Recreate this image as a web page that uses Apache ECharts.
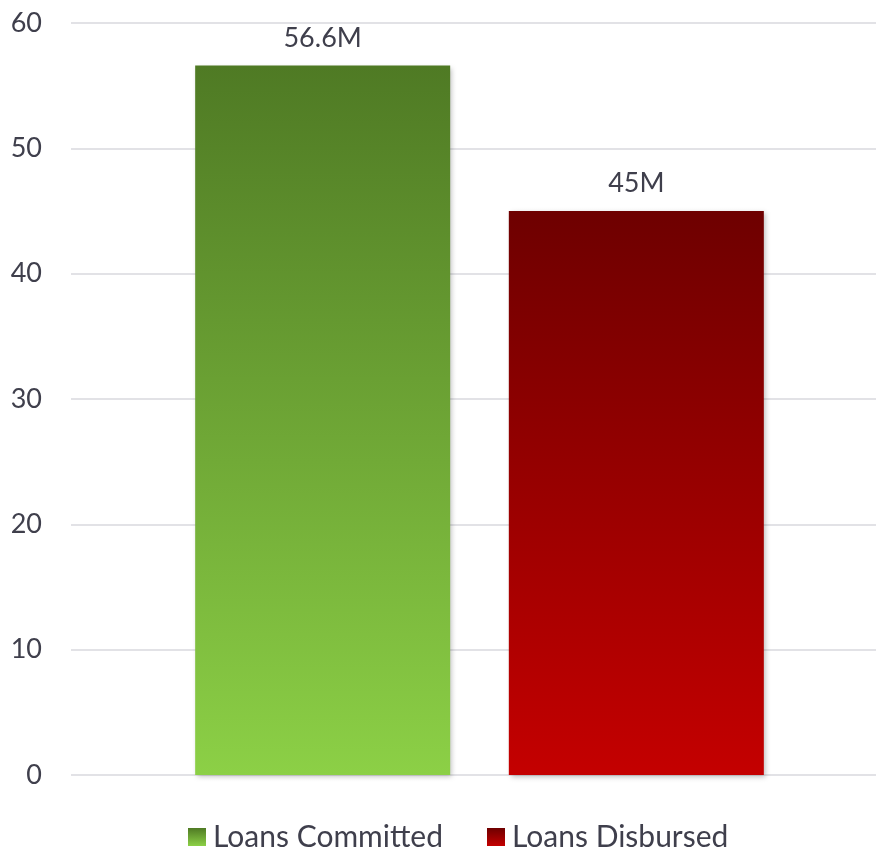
<!DOCTYPE html>
<html>
<head>
<meta charset="utf-8">
<script src="https://cdn.jsdelivr.net/npm/echarts@6/dist/echarts.min.js"></script>
<style>
  html, body { margin: 0; padding: 0; background: #fff; }
  #chart { width: 876px; height: 851px; }
</style>
</head>
<body>
<div id="chart"></div>
<script>
// data
const categories = [''];
const seriesNames = ['Loans Committed', 'Loans Disbursed'];
const committed = [56.6];
const disbursed = [45];
const valueLabels = { 'Loans Committed': '56.6M', 'Loans Disbursed': '45M' };

const fontFamily = 'Lato, "Open Sans", sans-serif';
const textColor = '#3f3f4c';

function grad(top, bottom) {
  return new echarts.graphic.LinearGradient(0, 0, 0, 1, [
    { offset: 0, color: top },
    { offset: 1, color: bottom }
  ]);
}

const mychart = echarts.init(document.getElementById('chart'));

let option = {
  backgroundColor: '#ffffff',
  animation: false,
  grid: { left: 71, width: 817, top: 23, bottom: 76, containLabel: false, outerBoundsMode: 'none' },
  legend: {
    data: seriesNames,
    top: 822,
    left: 188,
    padding: 0,
    itemWidth: 18,
    itemHeight: 18,
    itemGap: 44,
    icon: 'rect',
    textStyle: { fontFamily: fontFamily, fontSize: 30, color: textColor, padding: [0, 0, 0, 2] }
  },
  xAxis: {
    type: 'category',
    data: categories,
    axisLine: { show: false },
    axisTick: { show: false },
    axisLabel: { show: false }
  },
  yAxis: {
    type: 'value',
    min: 0,
    max: 60,
    interval: 10,
    axisLine: { show: false },
    axisTick: { show: false },
    axisLabel: { fontFamily: fontFamily, fontSize: 27, color: textColor, margin: 29 },
    splitLine: { lineStyle: { color: '#e2e2e6', width: 2 } }
  },
  series: [
    {
      name: seriesNames[0],
      type: 'bar',
      data: committed,
      barWidth: 255,
      barGap: '23%',
      itemStyle: {
        color: grad('#4f7a24', '#8cd046'),
        shadowBlur: 5,
        shadowColor: 'rgba(0,0,0,0.25)',
        shadowOffsetX: 2,
        shadowOffsetY: 2
      },
      label: {
        show: true,
        position: 'top',
        distance: 14,
        formatter: () => valueLabels[seriesNames[0]],
        fontFamily: fontFamily,
        fontSize: 27,
        color: textColor
      }
    },
    {
      name: seriesNames[1],
      type: 'bar',
      data: disbursed,
      barWidth: 255,
      itemStyle: {
        color: grad('#6e0000', '#c40000'),
        shadowBlur: 5,
        shadowColor: 'rgba(0,0,0,0.25)',
        shadowOffsetX: 2,
        shadowOffsetY: 2
      },
      label: {
        show: true,
        position: 'top',
        distance: 14,
        formatter: () => valueLabels[seriesNames[1]],
        fontFamily: fontFamily,
        fontSize: 27,
        color: textColor
      }
    }
  ]
};

mychart.setOption(option);
</script>
</body>
</html>
